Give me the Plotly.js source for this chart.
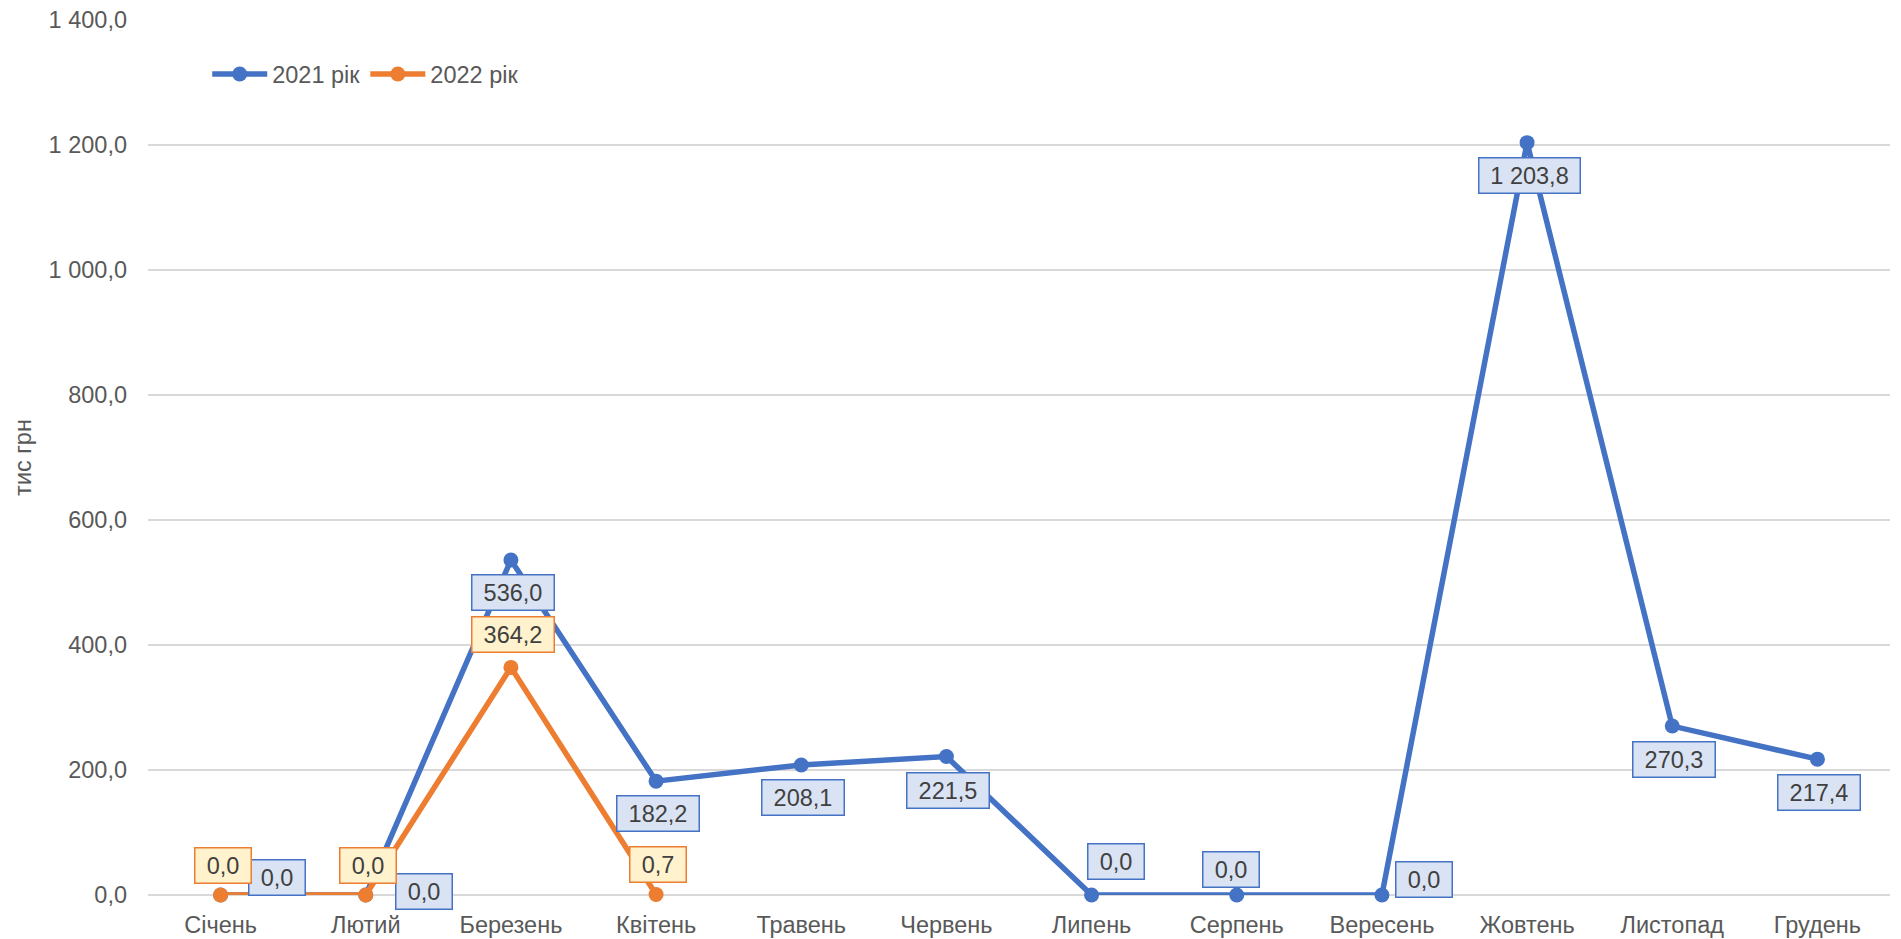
<!DOCTYPE html>
<html>
<head>
<meta charset="utf-8">
<script src="https://cdn.plot.ly/plotly-3.0.1.min.js"></script>
<style>
  html, body { margin: 0; padding: 0; background: #ffffff; }
  #chart { width: 1901px; height: 939px; }
</style>
</head>
<body>
<div id="chart"></div>
<script>
// ---- data ----
const months = ['Січень', 'Лютий', 'Березень', 'Квітень', 'Травень', 'Червень',
                'Липень', 'Серпень', 'Вересень', 'Жовтень', 'Листопад', 'Грудень'];
const values2021 = [0.0, 0.0, 536.0, 182.2, 208.1, 221.5, 0.0, 0.0, 0.0, 1203.8, 270.3, 217.4];
const values2022 = [0.0, 0.0, 364.2, 0.7, null, null, null, null, null, null, null, null];
const seriesNames = ['2021 рік', '2022 рік'];
const yTicks = [0, 200, 400, 600, 800, 1000, 1200, 1400];
const yTitle = 'тис грн';

// ---- label placement (pixel offsets from each point: [dx, dy], dy downward) ----
const labelOffsets2021 = [[54, -18], [56, -4], [0, 32], [0, 32], [0, 33], [0, 34],
                          [22, -34], [-8, -26], [40, -16], [0, 33], [0, 33], [0, 33]];
const labelOffsets2022 = [[0, -30], [0, -30], [0, -33], [0, -30]];

// ---- styles ----
const BLUE = '#4472C4', ORANGE = '#ED7D31';
const BLUE_FILL = '#DAE3F3', ORANGE_FILL = '#FFF2CC';
const FONT = 'Arial, "Liberation Sans", sans-serif';
const FSIZE = 23.5;
const TEXT = '#595959';

function fmt(v) {
  const s = v.toFixed(1).split('.');
  const intPart = s[0].replace(/\B(?=(\d{3})+(?!\d))/g, ' ');
  return intPart + ',' + s[1];
}
const cv = document.createElement('canvas').getContext('2d');
cv.font = FSIZE + 'px ' + FONT;
function tw(t) { return cv.measureText(t).width; }

function makeLabels(vals, offsets, color, fill) {
  const out = [];
  vals.forEach((v, i) => {
    if (v === null || v === undefined || !offsets[i]) return;
    const t = fmt(v);
    out.push({
      x: months[i], y: v, xref: 'x', yref: 'y',
      text: t, showarrow: false,
      xanchor: 'center', yanchor: 'middle',
      xshift: offsets[i][0] + 2, yshift: -offsets[i][1],
      width: Math.round(tw(t) + 20), height: 32,
      bgcolor: fill, bordercolor: color, borderwidth: 1.5, borderpad: 1,
      font: { family: FONT, size: FSIZE, color: '#404040' }
    });
  });
  return out;
}

const traces = [
  {
    x: months, y: values2021, name: seriesNames[0], type: 'scatter', mode: 'lines+markers',
    line: { color: BLUE, width: 5.5 },
    marker: { color: BLUE, size: 15, symbol: 'circle' },
    cliponaxis: false, hoverinfo: 'skip'
  },
  {
    x: months, y: values2022, name: seriesNames[1], type: 'scatter', mode: 'lines+markers',
    line: { color: ORANGE, width: 5.5 },
    marker: { color: ORANGE, size: 15, symbol: 'circle' },
    cliponaxis: false, hoverinfo: 'skip', connectgaps: false
  }
];

const layout = {
  width: 1901, height: 939,
  margin: { l: 148, r: 11, t: 19.5, b: 44, pad: 0 },
  paper_bgcolor: '#ffffff', plot_bgcolor: '#ffffff',
  separators: ', ',
  font: { family: FONT, size: FSIZE, color: TEXT },
  showlegend: true,
  legend: {
    orientation: 'h', x: 0.034, y: 0.938, xanchor: 'left', yanchor: 'middle',
    itemwidth: 55,
    font: { family: FONT, size: FSIZE, color: TEXT },
    bgcolor: 'rgba(0,0,0,0)', itemclick: false, itemdoubleclick: false
  },
  xaxis: {
    type: 'category', range: [-0.5, 11.5], showgrid: false, zeroline: false,
    showline: false, ticks: '', ticklabelstandoff: 13,
    tickfont: { family: FONT, size: FSIZE, color: TEXT },
    fixedrange: true
  },
  yaxis: {
    range: [0, 1400], tickvals: yTicks, tickformat: ',.1f',
    showgrid: true, gridcolor: '#D9D9D9', gridwidth: 1.3,
    zeroline: true, zerolinecolor: '#D9D9D9', zerolinewidth: 1.5,
    showline: false, ticks: '', ticklabelstandoff: 20,
    tickfont: { family: FONT, size: FSIZE, color: TEXT },
    title: { text: yTitle, font: { family: FONT, size: FSIZE, color: TEXT }, standoff: 10 },
    fixedrange: true
  },
  annotations: makeLabels(values2021, labelOffsets2021, BLUE, BLUE_FILL)
    .concat(makeLabels(values2022, labelOffsets2022, ORANGE, ORANGE_FILL))
};

Plotly.newPlot('chart', traces, layout, { displayModeBar: false, staticPlot: true });
</script>
</body>
</html>
